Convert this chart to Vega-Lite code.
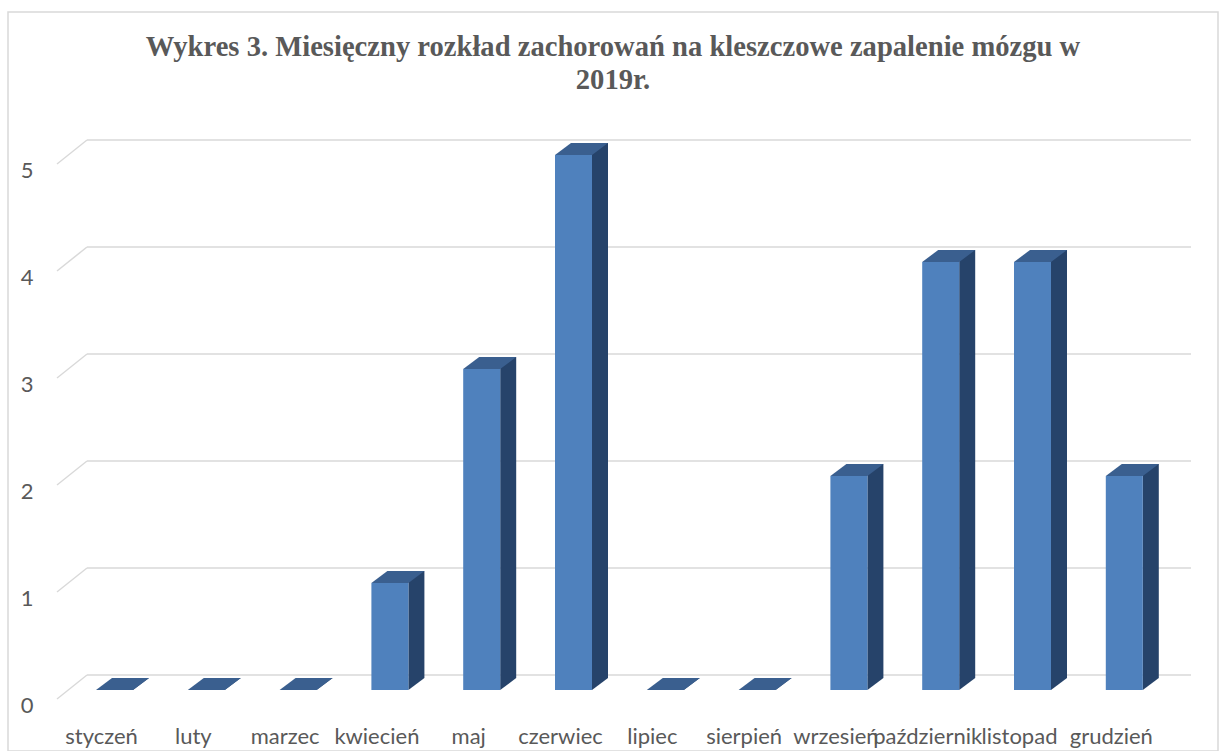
{
  "$schema": "https://vega.github.io/schema/vega-lite/v6.json",
  "width": 1210,
  "height": 739,
  "autosize": "none",
  "padding": {"left": 8, "top": 12, "right": 6, "bottom": 0},
  "background": "white",
  "config": {
    "view": {"stroke": "#d9d9d9", "strokeWidth": 1.5},
    "font": "Lato"
  },
  "title": {
    "text": ["Wykres 3. Miesięczny rozkład zachorowań na kleszczowe zapalenie mózgu w", "2019r."],
    "font": "Liberation Serif",
    "fontSize": 28.6,
    "fontWeight": "bold",
    "color": "#595959",
    "anchor": "middle",
    "frame": "group",
    "baseline": "top",
    "offset": 0,
    "dy": 83,
    "lineHeight": 33
  },
  "datasets": {
    "months": [
      {"month": "styczeń", "value": 0},
      {"month": "luty", "value": 0},
      {"month": "marzec", "value": 0},
      {"month": "kwiecień", "value": 1},
      {"month": "maj", "value": 3},
      {"month": "czerwiec", "value": 5},
      {"month": "lipiec", "value": 0},
      {"month": "sierpień", "value": 0},
      {"month": "wrzesień", "value": 2},
      {"month": "październik", "value": 4},
      {"month": "listopad", "value": 4},
      {"month": "grudzień", "value": 2}
    ],
    "grid": [{"t": 0}, {"t": 1}, {"t": 2}, {"t": 3}, {"t": 4}, {"t": 5}]
  },
  "layer": [
    {
      "data": {"name": "grid"},
      "mark": {"type": "rule", "color": "#d9d9d9", "strokeWidth": 1.5, "xOffset": -46.5, "x2Offset": 47.7, "yOffset": -15},
      "encoding": {
        "x": {"datum": "styczeń", "type": "nominal"},
        "x2": {"datum": "grudzień"},
        "y": {"field": "t", "type": "quantitative"}
      }
    },
    {
      "data": {"name": "grid"},
      "mark": {"type": "rule", "color": "#d9d9d9", "strokeWidth": 1.5, "xOffset": -46.5, "x2Offset": -76.5, "yOffset": -15, "y2Offset": 9},
      "encoding": {
        "x": {"datum": "styczeń", "type": "nominal"},
        "x2": {"datum": "styczeń"},
        "y": {"field": "t", "type": "quantitative"},
        "y2": {"field": "t"}
      }
    },
    {
      "data": {"name": "months"},
      "mark": {"type": "bar", "color": "#26436a", "width": 16, "xOffset": 7.5, "yOffset": -12, "y2Offset": -12},
      "encoding": {
        "x": {"field": "month", "type": "nominal"},
        "y": {"field": "value", "type": "quantitative"},
        "y2": {"datum": 0}
      }
    },
    {
      "data": {"name": "months"},
      "mark": {"type": "point", "shape": "M-0.5,0L-0.5,-12L15.5,-12Z", "size": 4, "filled": true, "opacity": 1, "color": "#26436a", "strokeWidth": 0},
      "encoding": {
        "x": {"field": "month", "type": "nominal"},
        "y": {"datum": 0, "type": "quantitative"}
      }
    },
    {
      "data": {"name": "months"},
      "mark": {"type": "bar", "color": "#4f81bd", "width": 37, "xOffset": -19},
      "encoding": {
        "x": {
          "field": "month",
          "type": "nominal",
          "scale": {
            "type": "band",
            "domain": ["styczeń", "luty", "marzec", "kwiecień", "maj", "czerwiec", "lipiec", "sierpień", "wrzesień", "październik", "listopad", "grudzień"],
            "range": [79.6, 1181.2],
            "paddingInner": 0,
            "paddingOuter": 0
          },
          "axis": {
            "title": null,
            "labelAngle": 0,
            "labelAlign": "center",
            "labelOffset": -32,
            "labelPadding": -8,
            "labelBaseline": "alphabetic",
            "ticks": false,
            "tickSize": 0,
            "domain": false,
            "grid": false,
            "labelOverlap": false,
            "labelFont": "Lato",
            "labelFontSize": 22,
            "labelColor": "#595959"
          }
        },
        "y": {
          "field": "value",
          "type": "quantitative",
          "scale": {"domain": [0, 5], "range": [678, 143], "nice": false, "zero": false},
          "axis": {
            "title": null,
            "values": [0, 1, 2, 3, 4, 5],
            "format": "d",
            "labelOffset": 15,
            "labelPadding": -25,
            "labelAlign": "right",
            "labelBaseline": "middle",
            "ticks": false,
            "tickSize": 0,
            "domain": false,
            "grid": false,
            "labelFont": "Lato",
            "labelFontSize": 22,
            "labelColor": "#595959"
          }
        },
        "y2": {"datum": 0}
      }
    },
    {
      "data": {"name": "months"},
      "mark": {"type": "point", "shape": "M-37.5,0L-0.5,0L15.5,-12L-21.5,-12Z", "size": 4, "filled": true, "opacity": 1, "color": "#3a5f8f", "strokeWidth": 0},
      "encoding": {
        "x": {"field": "month", "type": "nominal"},
        "y": {"field": "value", "type": "quantitative"}
      }
    }
  ]
}
